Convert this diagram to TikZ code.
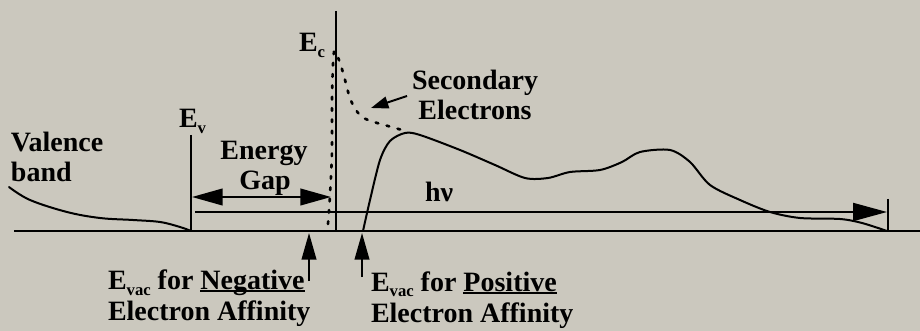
\documentclass[tikz,border=0pt]{standalone}
\usepackage{fontspec}
\setmainfont{Liberation Serif}
\usetikzlibrary{arrows.meta}
\definecolor{bg}{RGB}{203,200,190}
\newcommand\lowsub[1]{\raisebox{-4.5pt}{\fontsize{12.5}{12.5}\selectfont #1}}
\newcommand\myul[1]{\setbox0\hbox{#1}\rlap{\rule[-2pt]{\wd0}{1.2pt}}\box0}
\begin{document}
\begin{tikzpicture}[x=0.75pt,y=-0.75pt,line width=1.5pt,
  lbl/.style={font=\fontsize{21}{21}\selectfont\bfseries,inner sep=0pt,anchor=base west},
  clbl/.style={lbl,anchor=base},
  bigtip/.style={-{Triangle[length=20pt,width=11pt]}},
  bothtip/.style={{Triangle[length=23pt,width=12.5pt]}-{Triangle[length=23pt,width=12.5pt]}},
  hvtip/.style={-{Triangle[length=25.5pt,width=13.5pt]}},
  smalltip/.style={-{Triangle[length=13pt,width=9pt]}},
  curve/.style={line width=1.5pt,line join=round,line cap=round},
  dots/.style={line width=2pt,line cap=round,dash pattern=on 2pt off 6.5pt}]
\fill[bg] (0,0) rectangle (920,331);
\useasboundingbox (0,0) rectangle (920,331);
% coordinates
\coordinate (baseL) at (14,231);
\coordinate (baseR) at (920,231);
\coordinate (evTop) at (191,135);
\coordinate (evBot) at (191,232);
\coordinate (ecTop) at (336,11);
\coordinate (ecBot) at (336,232);
\coordinate (hvL) at (195,212);
\coordinate (hvR) at (887,212);
\coordinate (barTop) at (888,199);
\coordinate (barBot) at (888,232);
\coordinate (gapL) at (192,197);
\coordinate (gapR) at (331,197);
\coordinate (negFoot) at (309,281);
\coordinate (negTip) at (309,233);
\coordinate (posFoot) at (362,277);
\coordinate (posTip) at (362,233);
\coordinate (secFoot) at (407,96);
\coordinate (secTip) at (371,108);
% axes and lines
\draw (baseL) -- (baseR);
\draw (evTop) -- (evBot);
\draw[line width=1.8pt] (ecTop) -- (ecBot);
\draw[hvtip] (hvL) -- (hvR);
\draw (barTop) -- (barBot);
\draw[bothtip] (gapL) -- (gapR);
\draw[bigtip] (negFoot) -- (negTip);
\draw[bigtip] (posFoot) -- (posTip);
\draw[smalltip] (secFoot) -- (secTip);
% valence band curve
\draw[curve] plot[smooth,tension=0.6] coordinates {(9,187) (30,200) (67,212) (100,218) (133,220) (160,222) (180,227) (191,231)};
% main emission curve
\draw[curve] plot[smooth,tension=0.5] coordinates {(363,231) (370,200) (380,160) (390,141) (405,133) (420,135) (460,150) (495,165) (525,178) (548,178) (570,172) (600,170) (622,162) (640,152) (670,150) (690,162) (710,185) (740,200) (770,212) (800,218) (840,219) (862,223) (887,231)};
% secondary electrons (dotted)
\draw[dots] plot[smooth,tension=0.5] coordinates {(328,224) (330,195) (332,150) (332,100) (334,52) (340,63) (345,80) (349,95) (354,107) (362,117) (374,122) (388,126) (402,130)};
% labels
\node[lbl] (valence) at (10,152) {Valence};
\node[lbl] (band) at (10,182) {band};
\node[lbl] (ev) at (178,128) {E\lowsub{v}};
\node[lbl] (ec) at (298,52) {E\lowsub{c}};
\node[clbl] (energy) at (264,160) {Energy};
\node[clbl] (gap) at (265,190) {Gap};
\node[lbl] (hv) at (424,202) {hν};
\node[clbl] (secondary) at (475,90) {Secondary};
\node[clbl] (electrons) at (475,120) {Electrons};
\node[lbl] (neg1) at (107,289) {E\lowsub{vac} for \myul{Negative}};
\node[lbl] (neg2) at (107,320) {Electron Affinity};
\node[lbl] (pos1) at (370,291) {E\lowsub{vac} for \myul{Positive}};
\node[lbl] (pos2) at (370,322) {Electron Affinity};
\end{tikzpicture}
\end{document}
